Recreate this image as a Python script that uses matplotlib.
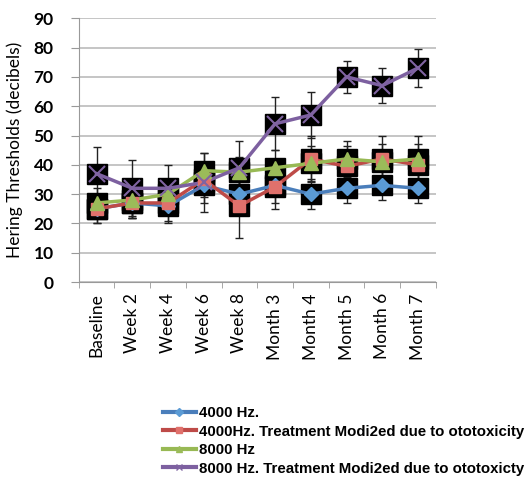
import numpy as np
import matplotlib.pyplot as plt
from matplotlib.lines import Line2D

# data
labels = ['Baseline', 'Week 2', 'Week 4', 'Week 6', 'Week 8',
          'Month 3', 'Month 4', 'Month 5', 'Month 6', 'Month 7']
hz4000 = [25, 27, 26, 33, 30, 33, 30, 32, 33, 32]
hz4000_mod = [25, 27, 27, 35, 26, 32.5, 42, 39.5, 42, 40]
hz8000 = [27, 28, 30, 38, 37.5, 39, 40.5, 42, 41, 42]
hz8000_mod = [37, 32, 32, 34, 39, 54, 57, 70, 67, 73]
err4000 = [5, 5, 6, 6, 6, 6, 5, 5, 5, 5]
err4000_mod = [5, 5, 6, 6, 11, 7.5, 8, 7, 8, 7]
err8000 = [5, 6, 5, 6, 5, 6, 6, 6, 6, 8]
err8000_mod = [9, 9.5, 8, 10, 9, 9, 8, 5.5, 6, 6.5]
names = ['4000 Hz.', '4000Hz. Treatment Modi2ed due to ototoxicity',
         '8000 Hz', '8000 Hz. Treatment Modi2ed due to ototoxicty']

series = [hz4000, hz4000_mod, hz8000, hz8000_mod]
errs = [err4000, err4000_mod, err8000, err8000_mod]
line_cols = ['#4A7EBB', '#BE4B48', '#98B954', '#7D60A0']
mark_cols = ['#5B9BD5', '#E0716C', '#9BBB59', '#8064A2']
markers = ['D', 's', '^', 'x']
msizes = [7, 9, 10, 12]

fig = plt.figure(figsize=(5.25, 4.79), dpi=100)
ax = fig.add_axes([0.150, 0.411, 0.680, 0.551])
x = np.arange(len(labels))

# black square backgrounds
for s in series:
    ax.plot(x, s, 's', color='black', markersize=14.5, zorder=2)

for s, e in zip(series, errs):
    ax.errorbar(x, s, yerr=e, fmt='none', ecolor='#222222', elinewidth=1,
                capsize=3, capthick=1, zorder=1.5)

handles = []
for s, lc, mc, m, ms in zip(series, line_cols, mark_cols, markers, msizes):
    ax.plot(x, s, '-', color=lc, linewidth=2.5, zorder=3)
    if m == 'x':
        ax.plot(x, s, m, color=mc, markersize=ms, markeredgewidth=1.5, zorder=4)
    else:
        ax.plot(x, s, m, color=mc, markersize=ms, markeredgecolor=mc, zorder=4)
    handles.append(Line2D([], [], color=lc, linewidth=3, marker=m,
                          markersize=4, markerfacecolor=mc, markeredgecolor=mc))

ax.set_xlim(-0.5, len(labels) - 0.5)
ax.set_ylim(0, 90)
ax.set_yticks(range(0, 91, 10))
ax.set_yticklabels([str(v) for v in range(0, 91, 10)], fontsize=12.5,
                   fontweight='bold', family='Lato')
ax.set_xticks(x)
ax.set_xticklabels(labels, rotation=90, fontsize=12.5, family='Lato')
ax.set_xticks(np.arange(-0.5, len(labels), 1), minor=True)
ax.tick_params(axis='x', which='major', length=0, pad=8)
ax.tick_params(axis='x', which='minor', length=4, color='#999999')
ax.tick_params(axis='y', length=6, color='#999999', pad=12)
ax.yaxis.grid(True, color='#BBBBBB', linewidth=1.2)
ax.set_axisbelow(True)
for sp in ['top', 'right']:
    ax.spines[sp].set_visible(False)
for sp in ['left', 'bottom']:
    ax.spines[sp].set_color('#999999')
ax.set_ylabel('Hering Thresholds (decibels)', fontsize=12.5, family='Lato',
              labelpad=8)

fig.legend(handles, names, loc='upper left', bbox_to_anchor=(0.31, 0.152),
           frameon=False, prop={'family': 'Liberation Sans', 'weight': 'bold',
                                'size': 10.8},
           handlelength=2.2, handletextpad=0.2, labelspacing=0.3,
           borderaxespad=0, borderpad=0)

fig.savefig('out.png', dpi=100)
